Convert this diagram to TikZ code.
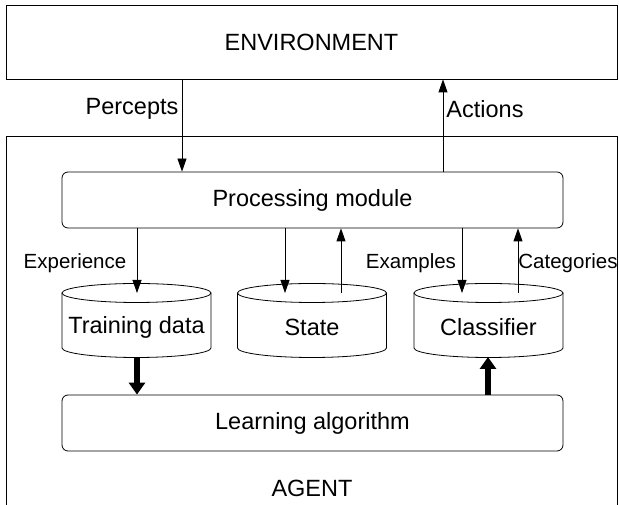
\documentclass[tikz,border=0pt]{standalone}
\usepackage{fontspec}
\setmainfont{Liberation Sans}
\usetikzlibrary{arrows.meta}
\begin{document}
\begin{tikzpicture}[x=1pt,y=1pt,
  line width=0.8pt,
  box/.style={draw, line width=0.8pt, inner sep=0pt, font=\fontsize{23.5}{27}\selectfont},
  rbox/.style={box, rounded corners=6pt},
  lbl/.style={inner sep=0pt, font=\fontsize{23.5}{27}\selectfont},
  slbl/.style={inner sep=0pt, font=\fontsize{20.5}{24}\selectfont},
  arr/.style={-{Triangle[length=13pt,width=9pt]}, line width=0.8pt},
  thick arr/.style={-{Triangle[length=12pt,width=16pt]}, line width=6.5pt},
  cyl/.style={draw, line width=0.8pt}
]
\useasboundingbox (0,0) rectangle (619,505);
% environment
\node[box, minimum width=611pt, minimum height=74pt] (env) at (311.5,463) {ENVIRONMENT};
% agent box (open at the bottom)
\draw (6,-2) -- (6,369) -- (617,369) -- (617,-2);
\node[lbl] (agent) at (312,17) {AGENT};
% processing module and learning algorithm
\node[rbox, minimum width=501pt, minimum height=56pt] (proc) at (312.5,305) {Processing module};
\node[rbox, minimum width=501pt, minimum height=56pt] (learn) at (312.5,82) {Learning algorithm};
% cylinders
\newcommand{\mycyl}[3]{%
  \draw[cyl] (#2-74.5,212) -- (#2-74.5,157) arc[start angle=180, end angle=360, x radius=74.5, y radius=9.5] -- (#2+74.5,212);
  \draw[cyl] (#2,212) ellipse [x radius=74.5, y radius=9.5];
  \node[lbl] (#1) at (#2,178) {#3};
  \coordinate (#1top) at (#2,212);
  \coordinate (#1bot) at (#2,148);
}
\mycyl{train}{136.5}{Training data}
\mycyl{state}{312}{State}
\mycyl{class}{488.5}{Classifier}
% x positions for connectors
\coordinate (xperc) at (182,0);
\coordinate (xact) at (443,0);
\coordinate (xexp) at (137,0);
\coordinate (xsd) at (285,0);
\coordinate (xsu) at (341,0);
\coordinate (xcd) at (462,0);
\coordinate (xcu) at (518,0);
\coordinate (xtl) at (137,0);
\coordinate (xcl) at (488,0);
% connectors
\draw[arr] (env.south -| xperc) -- (proc.north -| xperc);
\draw[arr] (proc.north -| xact) -- (env.south -| xact);
\draw[arr] (proc.south -| xexp) -- (traintop -| xexp);
\draw[arr] (proc.south -| xsd) -- (statetop -| xsd);
\draw[arr] (statetop -| xsu) -- (proc.south -| xsu);
\draw[arr] (proc.south -| xcd) -- (classtop -| xcd);
\draw[arr] (classtop -| xcu) -- (proc.south -| xcu);
\draw[thick arr] (trainbot -| xtl) -- (learn.north -| xtl);
\draw[thick arr] (learn.north -| xcl) -- (classbot -| xcl);
% labels
\node[lbl] (lperc) at (132,396) {Percepts};
\node[lbl] (lact) at (485,396) {Actions};
\node[slbl] (lexp) at (75,242) {Experience};
\node[slbl] (lexa) at (411,242) {Examples};
\node[slbl] (lcat) at (568,242) {Categories};
\end{tikzpicture}
\end{document}
